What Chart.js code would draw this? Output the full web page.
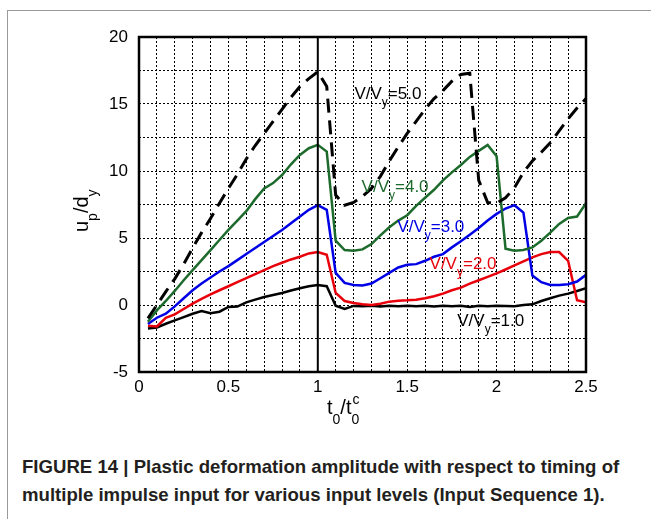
<!DOCTYPE html>
<html lang="en">
<head>
<meta charset="UTF-8">
<title>Figure 14 - Plastic deformation amplitude</title>
<script src="https://cdn.jsdelivr.net/npm/chart.js"></script>
<style>
  body { margin: 0; background: #fff; font-family: "Liberation Sans", Arial, sans-serif; }
  .fig { position: relative; width: 651px; height: 519px; overflow: hidden; }
  .frame { position: absolute; left: 7px; top: 10px; width: 700px; height: 600px;
           border-left: 1px solid #9a9a9a; border-top: 1px solid #9a9a9a; }
  .plot { position: absolute; left: 0; top: 0; width: 651px; height: 440px; }
  .caption { position: absolute; left: 22px; top: 453px; font-weight: bold; font-size: 18.6px;
             line-height: 28px; color: #231f20; white-space: nowrap; }
</style>
</head>
<body>
<div class="fig">
  <div class="frame"></div>
  <div class="plot"><canvas id="grafico" width="651" height="440"></canvas></div>
  <div class="caption">FIGURE 14 | Plastic deformation amplitude with respect to timing of<br>multiple impulse input for various input levels (Input Sequence 1).</div>
</div>

<script>
  // t0 / t0^c
  const tiempos = [0.05,0.10,0.15,0.20,0.25,0.30,0.35,0.40,0.45,0.50,
                   0.55,0.60,0.65,0.70,0.75,0.80,0.85,0.90,0.95,1.00,
                   1.05,1.10,1.15,1.20,1.25,1.30,1.35,1.40,1.45,1.50,
                   1.55,1.60,1.65,1.70,1.75,1.80,1.85,1.90,1.95,2.00,
                   2.05,2.10,2.15,2.20,2.25,2.30,2.35,2.40,2.45,2.50];

  // up / dy for each input level V/Vy
  const nivel1 = [-1.75,-1.68,-1.4,-1.15,-0.9,-0.65,-0.45,-0.62,-0.5,-0.15,
                  -0.12,0.2,0.4,0.6,0.75,0.9,1.08,1.25,1.4,1.5,
                  1.4,-0.05,-0.3,-0.07,-0.1,-0.05,-0.12,-0.05,-0.1,-0.05,
                  -0.1,-0.05,-0.12,-0.05,-0.1,-0.05,-0.15,-0.05,-0.1,-0.05,
                  -0.08,-0.1,0.0,0.05,0.3,0.5,0.7,0.85,1.05,1.25];
  const nivel2 = [-1.55,-1.6,-0.95,-0.7,-0.3,0.1,0.45,0.8,1.1,1.4,
                  1.7,2.0,2.3,2.6,2.9,3.15,3.4,3.6,3.85,3.95,
                  3.75,0.9,0.3,0.15,0.05,0.0,0.1,0.25,0.32,0.35,
                  0.4,0.5,0.65,0.85,1.1,1.3,1.6,1.85,2.1,2.36,
                  2.65,2.95,3.25,3.55,3.8,3.95,3.95,3.3,0.35,0.2];
  const nivel3 = [-1.42,-0.95,-0.65,-0.1,0.5,1.1,1.6,2.05,2.5,2.9,
                  3.35,3.8,4.25,4.7,5.15,5.6,6.1,6.6,7.1,7.45,
                  7.1,2.4,1.65,1.5,1.45,1.6,2.0,2.4,2.8,3.0,
                  3.05,3.3,3.6,3.8,4.3,4.75,5.25,5.75,6.3,6.8,
                  7.2,7.45,6.9,2.2,1.7,1.5,1.5,1.55,1.75,2.25];
  const nivel4 = [-1.25,-0.4,0.3,1.05,1.85,2.6,3.35,4.1,4.85,5.6,
                  6.3,7.0,7.9,8.7,9.1,9.7,10.5,11.2,11.7,11.95,
                  11.45,4.8,4.1,4.05,4.15,4.55,5.2,5.8,6.3,6.7,
                  7.4,8.0,8.6,9.3,9.9,10.45,11.05,11.5,11.95,11.1,
                  4.2,4.05,4.1,4.3,4.8,5.4,6.05,6.5,6.6,7.6];
  const nivel5 = [-1.0,0.0,1.0,1.95,3.05,4.25,5.4,6.45,7.6,8.7,
                  9.75,10.9,11.9,12.8,13.7,14.6,15.5,16.3,16.9,17.4,
                  16.3,8.2,7.45,7.65,8.1,8.7,9.6,10.75,11.8,12.8,
                  13.7,14.6,15.4,16.0,16.7,17.2,17.3,9.3,7.65,7.6,
                  8.0,8.75,9.9,10.75,11.4,12.1,13.0,13.9,14.7,15.4];

  const etiquetasX = [0, 0.5, 1, 1.5, 2, 2.5];
  const etiquetasY = [-5, 0, 5, 10, 15, 20];

  const puntos = ys => tiempos.map((t, i) => ({ x: t, y: ys[i] }));

  // writes V/V_y=n.n with a subscript y
  function textoNivel(ctx, x, y, valor, color) {
    ctx.fillStyle = color;
    ctx.textBaseline = 'alphabetic';
    ctx.textAlign = 'left';
    ctx.font = '17px "Liberation Sans", Arial, sans-serif';
    ctx.fillText('V/V', x, y);
    let w = ctx.measureText('V/V').width;
    ctx.font = '12px "Liberation Sans", Arial, sans-serif';
    ctx.fillText('y', x + w, y + 7);
    w += ctx.measureText('y').width;
    ctx.font = '17px "Liberation Sans", Arial, sans-serif';
    ctx.fillText('=' + valor, x + w, y);
  }

  const extras = {
    id: 'extras',
    afterDatasetsDraw(chart) {
      const { ctx, chartArea: a, scales: { x, y } } = chart;
      ctx.save();

      // solid line at t0/t0c = 1
      ctx.strokeStyle = '#000';
      ctx.lineWidth = 2;
      ctx.beginPath();
      ctx.moveTo(x.getPixelForValue(1), a.top);
      ctx.lineTo(x.getPixelForValue(1), a.bottom);
      ctx.stroke();

      // frame
      ctx.lineWidth = 2.5;
      ctx.strokeRect(a.left, a.top, a.right - a.left, a.bottom - a.top);

      // level labels
      textoNivel(ctx, x.getPixelForValue(1.205), y.getPixelForValue(15.4), '5.0', '#000');
      textoNivel(ctx, x.getPixelForValue(1.245), y.getPixelForValue(8.45), '4.0', '#1d6b2c');
      textoNivel(ctx, x.getPixelForValue(1.445), y.getPixelForValue(5.45), '3.0', '#0000e6');
      textoNivel(ctx, x.getPixelForValue(1.625), y.getPixelForValue(2.7), '2.0', '#e8000b');
      textoNivel(ctx, x.getPixelForValue(1.78), y.getPixelForValue(-1.6), '1.0', '#000');

      // axis titles
      ctx.fillStyle = '#000';
      ctx.textAlign = 'left';
      ctx.textBaseline = 'alphabetic';
      let tx = 327, ty = 414;
      const big = '20px "Liberation Sans", Arial, sans-serif';
      const small = '14px "Liberation Sans", Arial, sans-serif';
      ctx.font = big; ctx.fillText('t', tx, ty); tx += ctx.measureText('t').width;
      ctx.font = small; ctx.fillText('0', tx, ty + 10); tx += ctx.measureText('0').width;
      ctx.font = big; ctx.fillText('/t', tx, ty); tx += ctx.measureText('/t').width;
      ctx.font = small; ctx.fillText('0', tx, ty + 10); ctx.fillText('c', tx + 1, ty - 10);

      ctx.translate(88, 232);
      ctx.rotate(-Math.PI / 2);
      let ux = 0;
      ctx.font = big; ctx.fillText('u', ux, 0); ux += ctx.measureText('u').width;
      ctx.font = small; ctx.fillText('p', ux, 9); ux += ctx.measureText('p').width;
      ctx.font = big; ctx.fillText('/d', ux, 0); ux += ctx.measureText('/d').width;
      ctx.font = small; ctx.fillText('y', ux, 9);

      ctx.restore();
    }
  };

  const rejilla = {
    color: '#000',
    lineWidth: 1,
    drawTicks: false
  };

  new Chart(document.getElementById('grafico'), {
    type: 'line',
    data: {
      datasets: [
        { label: 'V/Vy=5.0', data: puntos(nivel5), borderColor: '#000', borderWidth: 3, borderDash: [14, 8] },
        { label: 'V/Vy=4.0', data: puntos(nivel4), borderColor: '#1d6b2c', borderWidth: 2.5 },
        { label: 'V/Vy=3.0', data: puntos(nivel3), borderColor: '#0000e6', borderWidth: 2.5 },
        { label: 'V/Vy=2.0', data: puntos(nivel2), borderColor: '#e8000b', borderWidth: 2.5 },
        { label: 'V/Vy=1.0', data: puntos(nivel1), borderColor: '#000', borderWidth: 2.5 }
      ]
    },
    options: {
      responsive: false,
      animation: false,
      events: [],
      elements: { point: { radius: 0 }, line: { tension: 0 } },
      layout: { padding: { top: 37, right: 65, left: 0, bottom: 0 } },
      plugins: { legend: { display: false }, tooltip: { enabled: false } },
      scales: {
        x: {
          type: 'linear',
          min: 0, max: 2.5,
          grid: rejilla,
          border: { display: false, dash: [2, 2] },
          afterFit: s => { s.height = 68; },
          ticks: {
            stepSize: 0.1, autoSkip: false, maxTicksLimit: 40, maxRotation: 0,
            padding: 5, color: '#000',
            font: { size: 17, family: '"Liberation Sans", Arial, sans-serif' },
            callback: v => {
              const e = etiquetasX.find(t => Math.abs(t - v) < 1e-6);
              return e === undefined ? '' : String(e);
            }
          }
        },
        y: {
          min: -5, max: 20,
          grid: rejilla,
          border: { display: false, dash: [2, 2] },
          afterFit: s => { s.width = 139; },
          ticks: {
            stepSize: 2.5, autoSkip: false, padding: 11, color: '#000',
            font: { size: 17, family: '"Liberation Sans", Arial, sans-serif' },
            callback: v => {
              const e = etiquetasY.find(t => Math.abs(t - v) < 1e-6);
              return e === undefined ? '' : String(e);
            }
          }
        }
      }
    },
    plugins: [extras]
  });
</script>
</body>
</html>
